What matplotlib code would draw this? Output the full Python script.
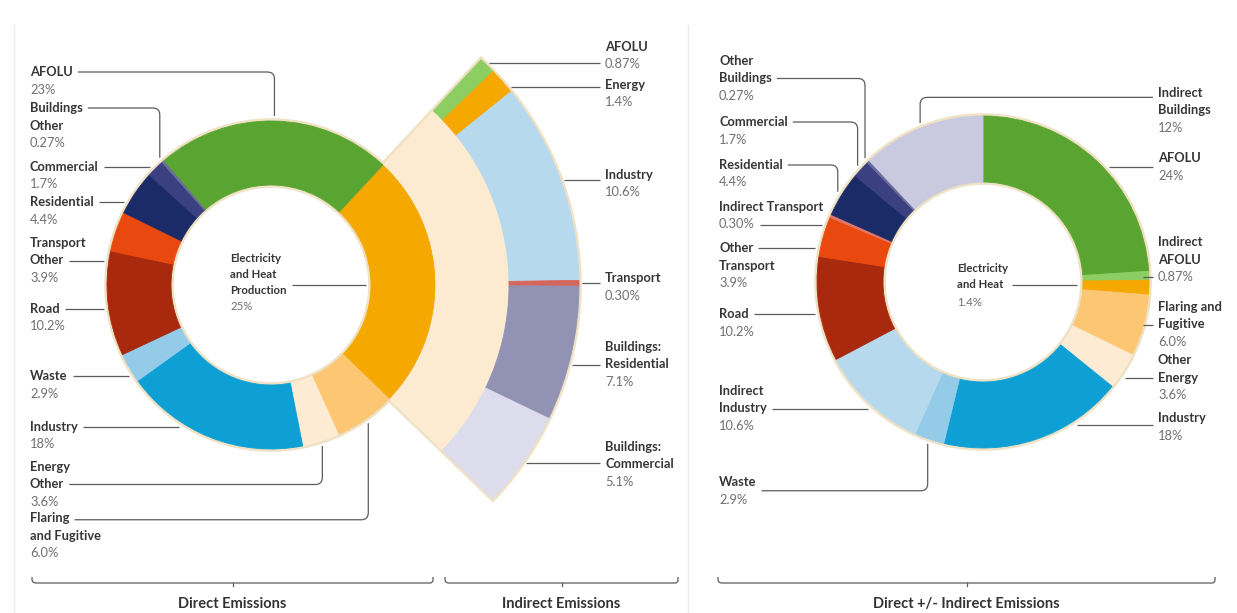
import numpy as np
import matplotlib.pyplot as plt
from matplotlib.path import Path
from matplotlib.patches import PathPatch, Circle, Wedge

W, H = 1237, 613

# direct emissions, clockwise from the electricity wedge
direct_sectors = ["Electricity\nand Heat\nProduction", "Flaring\nand Fugitive", "Energy\nOther",
                  "Industry", "Waste", "Road", "Transport\nOther", "Residential",
                  "Commercial", "Buildings\nOther", "AFOLU"]
direct_pct = ["25", "6.0", "3.6", "18", "2.9", "10.2", "3.9", "4.4", "1.7", "0.27", "23"]
direct_colors = ['#f5a800', '#fcc672', '#fdebd3', '#0ea0d4', '#93cbe8', '#a9290f',
                 '#e9480e', '#1b2b68', '#3b4180', '#6c6c9c', '#5aa431']

# electricity and heat re-allocated to the end-use sectors
indirect_sectors = ["AFOLU", "Energy", "Industry", "Transport",
                    "Buildings:\nResidential", "Buildings:\nCommercial"]
indirect_pct = ["0.87", "1.4", "10.6", "0.30", "7.1", "5.1"]
indirect_colors = ['#8dce62', '#f5a800', '#b7d9ee', '#d4665c', '#9292b4', '#dcdcec']
band_color = '#fdebd1'

# direct plus indirect, clockwise from twelve o'clock
total_sectors = ["AFOLU", "Indirect\nAFOLU", "Electricity\nand Heat", "Flaring and\nFugitive",
                 "Other\nEnergy", "Industry", "Waste", "Indirect\nIndustry", "Road",
                 "Other\nTransport", "Indirect Transport", "Residential", "Commercial",
                 "Other\nBuildings", "Indirect\nBuildings"]
total_pct = ["24", "0.87", "1.4", "6.0", "3.6", "18", "2.9", "10.6", "10.2", "3.9",
             "0.30", "4.4", "1.7", "0.27", "12"]
total_colors = ['#5aa431', '#8dce62', '#f5a800', '#fcc672', '#fdebd3', '#0ea0d4', '#93cbe8',
                '#b7d9ee', '#a9290f', '#e9480e', '#e0776a', '#1b2b68', '#3b4180', '#6c6c9c',
                '#c9c9df']

bracket_titles = ["Direct Emissions", "Indirect Emissions", "Direct +/- Indirect Emissions"]

direct_values = [float(p) for p in direct_pct]
indirect_values = [float(p) for p in indirect_pct]
total_values = [float(p) for p in total_pct]

plt.rcParams['font.family'] = ['Lato', 'DejaVu Sans']

NAME_C = '#363636'
PCT_C = '#707070'
LEAD_C = '#5c5c5c'
HALO_C = '#eee1c4'
FS = 9.3
STEP = 17.5

fig = plt.figure(figsize=(W / 100, H / 100), dpi=100)
ax = fig.add_axes([0, 0, 1, 1])
ax.set_xlim(0, W)
ax.set_ylim(0, H)


def yy(y):
    # layout is written top-down in pixels
    return H - y


def ring(values, colors, center, radius, width, start, normalize=True):
    wedges, _ = ax.pie(values, colors=colors, radius=radius, startangle=start,
                       center=(center[0], yy(center[1])), counterclock=False,
                       normalize=normalize, frame=True,
                       wedgeprops=dict(width=width, linewidth=0.6))
    for w in wedges:
        w.set_edgecolor(w.get_facecolor())
    return wedges


def halo(center, r):
    ax.add_patch(Circle((center[0], yy(center[1])), r, fill=False, ec=HALO_C,
                        lw=4, zorder=0.5))


def mid_point(w, center, r):
    a = np.deg2rad((w.theta1 + w.theta2) / 2)
    return center[0] + r * np.cos(a), center[1] - r * np.sin(a)


def edge_x(center, r, y, side):
    return center[0] + side * np.sqrt(max(r ** 2 - (y - center[1]) ** 2, 0))


def leader(pts, rad=7):
    pts = [np.array((x, yy(y)), float) for x, y in pts]
    verts, codes = [pts[0]], [Path.MOVETO]
    for p0, p1, p2 in zip(pts, pts[1:], pts[2:]):
        d1 = (p1 - p0) / np.hypot(*(p1 - p0))
        d2 = (p2 - p1) / np.hypot(*(p2 - p1))
        r = min(rad, np.hypot(*(p2 - p1)) / 2)
        verts += [p1 - d1 * r, p1, p1 + d2 * r]
        codes += [Path.LINETO, Path.CURVE3, Path.CURVE3]
    verts.append(pts[-1])
    codes.append(Path.LINETO)
    ax.add_patch(PathPatch(Path(verts, codes), fill=False, ec=LEAD_C, lw=0.9, zorder=3))


def label(x, y0, name, pct, ha='left', step=STEP, fs=FS):
    texts = []
    lines = name.split('\n')
    for i, s in enumerate(lines):
        texts.append(ax.text(x, yy(y0 + i * step), s, ha=ha, va='center', fontsize=fs,
                             fontweight='bold', color=NAME_C))
    texts.append(ax.text(x, yy(y0 + len(lines) * step), pct + '%', ha=ha, va='center',
                         fontsize=fs, color=PCT_C))
    return texts


# --- left: direct emissions donut ---
C1, R1, RI1 = (271, 285), 164, 100
halo(C1, R1)
halo(C1, RI1)
direct_w = ring(direct_values, direct_colors, C1, R1, R1 - RI1, 47)

# --- middle: electricity wedge opened out into its end uses ---
elec = direct_w[0]
span = (elec.theta2 - elec.theta1) / 360
RB, RF = 238, 308
ax.add_patch(Wedge((C1[0], yy(C1[1])), RF, elec.theta1, elec.theta2, width=RF - R1,
                   fill=False, ec=HALO_C, lw=4, zorder=0.5))
ring([span], [band_color], C1, RB, RB - R1 - 1, elec.theta2, normalize=False)
fan_fracs = [v / sum(indirect_values) * span for v in indirect_values]
ring(fan_fracs, indirect_colors, C1, RF, RF - RB, elec.theta2, normalize=False)

# --- right: direct plus indirect donut ---
C2, R2, RI2 = (983, 282), 166, 100
halo(C2, R2)
halo(C2, RI2)
total_w = ring(total_values, total_colors, C2, R2, R2 - RI2, 90)

ax.set_xlim(0, W)
ax.set_ylim(0, H)
ax.set_aspect('auto')
ax.axis('off')
rend = fig.canvas.get_renderer()


def text_end(t):
    return t.get_window_extent(rend).x1


def text_start(t):
    return t.get_window_extent(rend).x0


def place(center, r, wedges, sectors, pct, layout, x_left, x_right):
    gap = r + 5
    for w, name, p, spec in zip(wedges, sectors, pct, layout):
        side, y0, attach, kind = spec
        x = x_left if side == 'L' else x_right
        texts = label(x, y0, name, p)
        y = y0 + attach * STEP
        t = texts[int(round(attach))]
        if side == 'L':
            x0 = text_end(t) + 5
            if kind == 'h':
                leader([(x0, y), (edge_x(center, gap, y, -1), y)])
            else:
                xv, ye = mid_point(w, center, gap)
                leader([(x0, y), (xv, y), (xv, ye)])
        else:
            x0 = text_start(t) - 5
            if kind == 'h':
                xe = min(edge_x(center, gap, y, 1), x0 - 10)
                leader([(x0, y), (xe, y)])
            else:
                xv, ye = mid_point(w, center, gap)
                leader([(x0, y), (xv, y), (xv, ye)])


# direct labels (the electricity wedge is labelled in the hole)
direct_layout = [('L', 518, 0.1, 'elbow'), ('L', 467, 1, 'elbow'), ('L', 427, 0, 'h'),
                 ('L', 376, 0, 'h'), ('L', 309, 0, 'h'), ('L', 243, 1, 'h'),
                 ('L', 202, 0, 'h'), ('L', 167, 0, 'h'), ('L', 108, 0, 'elbow'),
                 ('L', 72, 0, 'elbow')]
place(C1, R1, direct_w[1:], direct_sectors[1:], direct_pct[1:], direct_layout, 30, None)

ct = label(230, 259, direct_sectors[0], direct_pct[0], step=16, fs=8.2)
yc = 259 + 1.6 * 16
leader([(text_end(ct[2]) + 5, yc), (edge_x(C1, RI1, yc, 1) - 5, yc)])

# end-use labels beside the fan
fan_layout = [(47, 0.9), (85, 0.1), (175, 0.3), (278, 0.3), (347, 1), (447, 0.9)]
for name, p, (y0, attach) in zip(indirect_sectors, indirect_pct, fan_layout):
    label(605, y0, name, p)
    y = y0 + attach * STEP
    leader([(600, y), (edge_x(C1, RF + 3, y, 1), y)])

# direct plus indirect labels
total_layout = [('R', 158, 0.5, 'h'), ('R', 242, 2, 'h'), None, ('R', 307, 1, 'h'),
                ('R', 360, 1, 'h'), ('R', 418, 0.4, 'h'), ('L', 482, 0.5, 'elbow'),
                ('L', 391, 1, 'h'), ('L', 314, 0, 'h'), ('L', 248, 0, 'h'),
                ('L', 207, 1, 'h'), ('L', 165, 0, 'elbow'), ('L', 122, 0, 'elbow'),
                ('L', 61, 1, 'elbow'), ('R', 93, 0.25, 'elbow')]
keep = [i for i, s in enumerate(total_layout) if s is not None]
place(C2, R2, [total_w[i] for i in keep], [total_sectors[i] for i in keep],
      [total_pct[i] for i in keep], [total_layout[i] for i in keep], 719, 1158)

ct = label(957, 268, total_sectors[2], total_pct[2], step=17, fs=8.2)
leader([(text_end(ct[0]) + 4, 285), (edge_x(C2, RI2, 285, 1) - 6, 285)])

# panel separators
for xs in (14, 688):
    ax.plot([xs, xs], [yy(25), 0], color='#ececec', lw=1, zorder=0)

# brackets under each panel
for (xa, xb), title in zip([(32, 433), (445, 678), (718, 1215)], bracket_titles):
    yb, xm = 583, (xa + xb) / 2
    leader([(xa, yb - 6), (xa, yb), (xb, yb), (xb, yb - 6)], rad=4)
    ax.plot([xm, xm], [yy(yb), yy(yb + 3)], color=LEAD_C, lw=0.9)
    ax.text(xm, yy(604), title, ha='center', va='center', fontsize=10.5,
            fontweight='bold', color='#333333')

fig.savefig('out.png', dpi=100, facecolor='white')
